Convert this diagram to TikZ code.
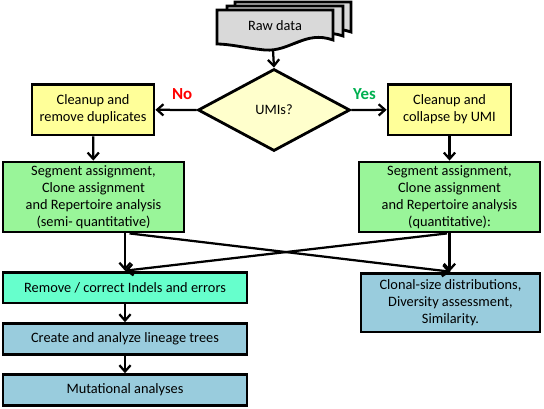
\documentclass[tikz,border=0pt]{standalone}
\usepackage{fontspec}
\setmainfont{Carlito}
\usetikzlibrary{shapes.geometric,arrows.meta}
\definecolor{rawgray}{HTML}{D9D9D9}
\definecolor{yel}{HTML}{FFFF99}
\definecolor{diafill}{HTML}{FFFFCC}
\definecolor{grn}{HTML}{99F599}
\definecolor{aqua}{HTML}{66FFCC}
\definecolor{blu}{HTML}{99CCDD}
\definecolor{nored}{HTML}{FF0000}
\definecolor{yesgreen}{HTML}{00B050}
\begin{document}
\begin{tikzpicture}[x=0.025cm,y=-0.025cm,line width=1.6pt,>={Straight Barb[length=4.5pt,width=8pt]},
	box/.style={draw,line width=2pt,align=center,inner sep=0pt,font=\fontsize{10.2}{12}\selectfont},
	lbl/.style={font=\fontsize{12}{14}\selectfont\bfseries}]
				\useasboundingbox (0,0) rectangle (544,408);
				\foreach \dx/\dy in {18/8,10/4,0/0}
				\draw[fill=rawgray,line width=2pt,shift={(\dx,-\dy)}] (217,10)--(333,10)--(333,40)..controls(305,30)and(290,52)..(265,50)..controls(245,48)and(230,44)..(217,44)--cycle;
				\node[font=\fontsize{10.2}{12}\selectfont] (raw) at (275,26) {Raw data};
				\coordinate (rawbot) at (273,50);
				\node[box,diamond,fill=diafill,minimum width=3.8cm,minimum height=2.05cm] (umi) at (274,110) {UMIs?};
				\node[box,fill=yel,minimum width=3.05cm,minimum height=1.27cm] (ly) at (93,109.5) {Cleanup and\\remove duplicates};
				\node[box,fill=yel,minimum width=3.07cm,minimum height=1.27cm] (ry) at (449.5,109.5) {Cleanup and\\collapse by UMI};
				\node[box,fill=grn,minimum width=4.52cm,minimum height=1.75cm] (lg) at (93.5,197) {Segment assignment,\\Clone assignment\\and Repertoire analysis\\(semi- quantitative)};
				\node[box,fill=grn,minimum width=4.52cm,minimum height=1.75cm] (rg) at (449.5,197) {Segment assignment,\\Clone assignment\\and Repertoire analysis\\(quantitative):};
				\node[box,fill=aqua,minimum width=6.1cm,minimum height=0.77cm] (rem) at (125,287.5) {Remove / correct Indels and errors};
				\node[box,fill=blu,minimum width=6.1cm,minimum height=0.77cm] (cre) at (125,339) {Create and analyze lineage trees};
				\node[box,fill=blu,minimum width=6.1cm,minimum height=0.77cm] (mut) at (125,390) {Mutational analyses};
				\node[box,fill=blu,minimum width=4.47cm,minimum height=1.47cm] (clo) at (450.5,302.5) {Clonal-size distributions,\\Diversity assessment,\\Similarity.};
				\draw[->] (rawbot)--(umi.north);
				\draw[->] (umi.west)--(ly) node[lbl,pos=0.35,above=3pt,text=nored]{No};
				\draw[->] (umi.east)--(ry) node[lbl,pos=0.37,above=3pt,text=yesgreen]{Yes};
				\foreach \a/\b in {ly/lg,ry/rg,rem/cre,cre/mut}
				\draw[->] (\a)--(\b);
				\draw[->] (rem.north |- lg.south)--(rem.north);
				\draw[->] (rg.south)--(rg.south |- clo.north);
				\draw[->] ([xshift=0.9cm]lg.south)--(clo.north);
				\draw[->] ([xshift=-0.06cm]rg.south)--(rem.north);
			\end{tikzpicture}
\end{document}
